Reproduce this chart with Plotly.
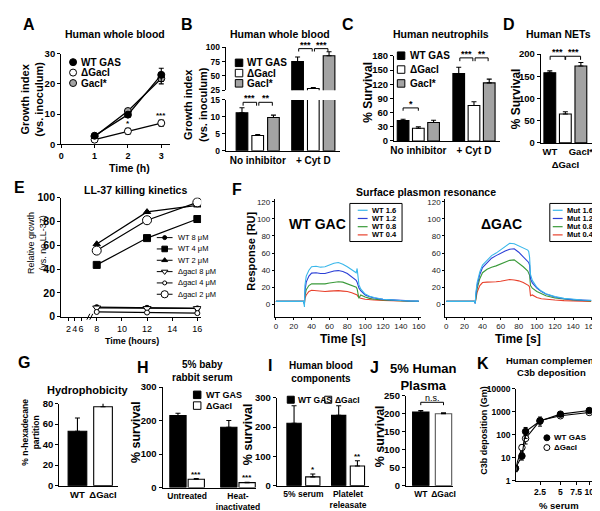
import math
import plotly.graph_objects as go

W, H = 600, 511
FONT = "Liberation Sans, Arial, Helvetica, sans-serif"
GRAY = "#a3a3a3"

# ---------------- data ----------------
# A  Human whole blood (time course)
a_hours = [1, 2, 3]
a_wt = [2.8, 9.8, 23.0]
a_wt_err = [0.4, 0.8, 2.2]
a_del = [1.5, 4.3, 7.0]
a_del_err = [0.3, 1.0, 1.0]
a_comp = [2.5, 11.0, 21.8]
a_comp_err = [0.3, 0.8, 1.8]
a_sig = ["", "*", "***"]
strain_names = ["WT GAS", "ΔGacI", "GacI*"]

# B  Human whole blood (inhibitor)
b_groups = ["No inhibitor", "+ Cyt D"]
b_wt = [11.2, 75]
b_wt_err = [1.5, 8]
b_del = [4.5, 28]
b_del_err = [0.3, 1.5]
b_comp = [9.8, 85]
b_comp_err = [0.7, 7]

# C  Human neutrophils
c_groups = ["No inhibitor", "+ Cyt D"]
c_wt = [43, 143]
c_wt_err = [3, 13]
c_del = [27, 75]
c_del_err = [3, 8]
c_comp = [39, 123]
c_comp_err = [5, 8]

# D  Human NETs
d_strains = ["WT", "<br>ΔGacI", "GacI*"]
d_vals = [158, 65, 173]
d_err = [4, 5, 8]

# E  LL-37 killing kinetics
e_times = [8, 12, 16]
e_names = ["WT 8 μM", "WT 4 μM", "WT 2 μM", "ΔgacI 8 μM", "ΔgacI 4 μM", "ΔgacI 2 μM"]
e_wt8 = [8, 7.5, 7]
e_wt4 = [43.5, 66, 82]
e_wt2 = [61, 88, 93.5]
e_del8 = [7.5, 7, 7]
e_del4 = [4, 3.5, 3]
e_del2 = [55.5, 81, 96]
e_ticks = [2, 4, 6, 8, 10, 12, 14, 16]

# F  Surface plasmon resonance
f_time = [0, 31, 32, 32.5, 34, 37, 40, 45, 50, 55, 60, 65, 70, 75, 80, 85, 90, 91, 92, 93,
          95, 100, 105, 110, 120, 130, 140, 150, 160]
f_wt16 = [3.5, 3.5, -3, 22, 33, 40, 44, 44.5, 43.5, 44, 46, 48, 49, 47, 44, 41, 37, 42, 28, 23,
          18, 12, 9.5, 8, 6, 5, 4.5, 4, 3.8]
f_wt12 = [3.5, 3.5, 0, 15, 26, 33, 36.5, 37, 36, 36, 37.5, 39, 39.5, 38.5, 36, 32, 28, 26, 22, 19,
          16, 11, 9, 7.5, 5.8, 5, 4.5, 4, 3.8]
f_wt08 = [3.5, 3.5, 1, 10, 17, 22, 24, 24, 23.5, 24, 25, 26, 26.5, 26, 24, 22, 20, 18, 14, 7,
          11, 8.5, 7, 6, 5, 4.3, 4, 3.7, 3.5]
f_wt04 = [3.5, 3.5, 2, 7, 11, 15, 16.5, 16, 15, 15, 15.5, 16, 16, 15.5, 15, 13.5, 12, 11, 9, 8,
          7, 6, 5.3, 5, 4.5, 4, 3.8, 3.6, 3.4]
f_mut16 = [3.5, 3.5, 1, 12, 25, 38, 46, 52, 57, 60, 64, 68, 71.5, 71, 68.5, 66, 63.5, 62, 55, 35,
           28, 20, 15.5, 12.5, 9, 7, 5.8, 5, 4.6]
f_mut12 = [3.5, 3.5, 1, 10, 22, 35, 43, 49, 54, 57, 60, 62.5, 64.5, 65, 61, 56, 51, 49, 46, 30,
           25, 19, 15, 12, 8.5, 6.5, 5.5, 5, 4.5]
f_mut08 = [3.5, 3.5, 2, 8, 18, 30, 37, 41, 43.5, 45, 47, 49.5, 51.5, 52, 48.5, 44, 39, 37, 34, 22,
           19, 15, 12, 10, 7.5, 6, 5, 4.5, 4]
f_mut04 = [3.5, 3.5, 2, 6, 14, 22, 25.5, 26, 26, 26.5, 27, 28, 29, 28.5, 27.5, 25.5, 23, 22, 20, 10,
           11, 8, 6.5, 5.8, 5, 4.3, 4, 3.7, 3.4]
f_conc = ["1.6", "1.2", "0.8", "0.4"]

# G  Hydrophobicity
g_strains = ["WT", "ΔGacI"]
g_vals = [53, 77]
g_err = [13, 6]

# H  5% baby rabbit serum
h_groups = ["Untreated", "Heat-<br>inactivated"]
h_wt = [215, 180]
h_wt_err = [7, 20]
h_del = [25, 15]
h_del_err = [2, 1]

# I  Human blood components
i_groups = ["5% serum", "Platelet<br>releasate"]
i_wt = [213, 240]
i_wt_err = [60, 33]
i_del = [30, 67]
i_del_err = [10, 18]
i_sig = ["*", "**"]

# J  5% human plasma
j_strains = ["WT", "ΔGacI"]
j_vals = [205, 200]
j_err = [4, 3]

# K  C3b deposition
k_serum = [0.625, 1.0, 1.25, 2.5, 5, 10]
k_wt = [3.5, 12, 140, 400, 800, 1150]
k_wt_err = [1, 4, 70, 100, 150, 150]
k_del = [3.5, 28, 70, 420, 680, 950]
k_del_err = [1, 10, 30, 180, 100, 100]
k_ticks = [2.5, 5, 7.5, 10]

# ---------------- helpers ----------------
fig = go.Figure()
axes_layout = {}
annotations = []
shapes = []


def base(size=9.5, bold=True, color="black"):
    return dict(showline=True, linecolor="black", linewidth=1.3, ticks="outside", ticklen=3,
                tickwidth=1.3, tickcolor="black", showgrid=False, zeroline=False, tickangle=0,
                tickfont=dict(family=FONT, size=size, color=color,
                              weight="bold" if bold else "normal"),
                fixedrange=True)


def make_axes(n, xpx, ypx, xr, yr, xkw=None, ykw=None):
    xs = "x" if n == 1 else f"x{n}"
    ys = "y" if n == 1 else f"y{n}"
    xa = base()
    xa.update(domain=[xpx[0] / W, xpx[1] / W], range=xr, anchor=ys)
    xa.update(xkw or {})
    ya = base()
    ya.update(domain=[1 - ypx[1] / H, 1 - ypx[0] / H], range=yr, anchor=xs)
    ya.update(ykw or {})
    axes_layout["xaxis" if n == 1 else f"xaxis{n}"] = xa
    axes_layout["yaxis" if n == 1 else f"yaxis{n}"] = ya
    return xs, ys


def tf(size=9.5, bold=True, color="black"):
    return dict(family=FONT, size=size, color=color, weight="bold" if bold else "normal")


def text(x, y, s, size=10, bold=True, anchor="center", angle=0, color="black"):
    annotations.append(dict(x=x / W, y=1 - y / H, xref="paper", yref="paper", text=s,
                            showarrow=False, xanchor=anchor, yanchor="middle", textangle=angle,
                            font=tf(size, bold, color)))


def bars(xa, ya, xs, vals, errs, fill, width, line="black"):
    fig.add_trace(go.Bar(
        x=xs, y=vals, width=width, xaxis=xa, yaxis=ya,
        marker=dict(color=fill, line=dict(color=line, width=1.1)),
        error_y=dict(type="data", array=errs, arrayminus=[0] * len(vals), symmetric=False,
                     color="black", thickness=1.1, width=2.5),
        hoverinfo="skip"))


def bracket(xa, ya, x0, x1, y, leg, label, size=9, bold=True):
    shapes.append(dict(type="path", xref=xa, yref=ya,
                       path=f"M{x0},{y - leg} L{x0},{y} L{x1},{y} L{x1},{y - leg}",
                       line=dict(color="black", width=1)))
    annotations.append(dict(x=(x0 + x1) / 2, y=y, xref=xa, yref=ya, text=label, showarrow=False,
                            yanchor="bottom", yshift=-3, font=tf(size, bold)))


def star(xa, ya, x, y, label, size=8):
    annotations.append(dict(x=x, y=y, xref=xa, yref=ya, text=label, showarrow=False,
                            yanchor="bottom", yshift=-2, font=tf(size)))


def lg(x, y, symbol=None, size=7, fill="black", line="black", seg=None, lcolor="black", lw=1.2):
    """legend glyph on the pixel overlay axis"""
    if seg:
        fig.add_trace(go.Scatter(x=[x - seg, x + seg], y=[y, y], mode="lines", xaxis="x30",
                                 yaxis="y30", line=dict(color=lcolor, width=lw),
                                 hoverinfo="skip"))
    if symbol:
        fig.add_trace(go.Scatter(x=[x], y=[y], mode="markers", xaxis="x30", yaxis="y30",
                                 marker=dict(symbol=symbol, size=size, color=fill,
                                             line=dict(color=line, width=1)),
                                 hoverinfo="skip"))


fills = ["black", "white", GRAY]

# ---------------- A ----------------
xa, ya = make_axes(1, (50, 160), (40.7, 133.3), [0, 3.25], [0, 30],
                   dict(tickvals=[0, 1, 2, 3], tickfont=tf(9)), dict(tickvals=[0, 10, 20, 30]))
for vals, errs, fill in [(a_comp, a_comp_err, GRAY), (a_del, a_del_err, "white"),
                         (a_wt, a_wt_err, "black")]:
    fig.add_trace(go.Scatter(x=a_hours, y=vals, xaxis=xa, yaxis=ya, mode="lines+markers",
                             line=dict(color="black", width=1.3),
                             marker=dict(size=7, color=fill, line=dict(color="black", width=1)),
                             error_y=dict(type="data", array=errs, color="black", thickness=1.1,
                                          width=2.5), hoverinfo="skip"))
for h, v, e, s in zip(a_hours, a_del, a_del_err, a_sig):
    if s:
        star(xa, ya, h, v + e, s)
for i, (nm, fill) in enumerate(zip(strain_names, fills)):
    lg(62, 49.3 + 10.7 * i, "circle", 7, fill)
    text(68, 49.3 + 10.7 * i, nm, 10, anchor="left")
text(17, 11, "A", 16)
text(105, 20, "Human whole blood", 10.5)
text(20, 87, "Growth index<br>(vs. inoculum)", 11, angle=-90)
text(119, 158, "Time (h)", 10.5)

# ---------------- B (broken axis) ----------------
b_off, b_w = 0.283, 0.21
b_x = list(range(len(b_groups)))
xb, yb = make_axes(2, (217, 333), (88, 140), [-0.575, 1.48], [0, 15],
                   dict(tickvals=b_x, ticktext=b_groups, ticks="", tickfont=tf(10)),
                   dict(tickvals=[0, 5, 10, 15], tickfont=tf(8.5)))
xb2, yb2 = make_axes(3, (217, 333), (34, 78), [-0.575, 1.48], [25, 100],
                     dict(visible=False), dict(tickvals=[25, 50, 75, 100], tickfont=tf(8.5)))
for axx, axy in [(xb, yb), (xb2, yb2)]:
    for k, (vals, errs) in enumerate([(b_wt, b_wt_err), (b_del, b_del_err), (b_comp, b_comp_err)]):
        bars(axx, axy, [g + (k - 1) * b_off for g in b_x], vals, errs, fills[k], b_w)
bracket(xb, yb, -b_off + 0.02, -0.02, 14.3, 1.0, "***")
bracket(xb, yb, 0.02, b_off - 0.02, 14.3, 1.0, "**")
bracket(xb2, yb2, 1 - b_off + 0.02, 0.98, 97.5, 5, "***")
bracket(xb2, yb2, 1.02, 1 + b_off - 0.02, 97.5, 5, "***")
for i, nm in enumerate(strain_names):
    lg(230.5, 50 + 10.5 * i, "square", 7.5, fills[i])
    text(237, 50 + 10.5 * i, nm, 10, anchor="left")
text(178, 11, "B", 16)
text(272, 20, "Human whole blood", 10.5)
text(186, 93, "Growth index<br>(vs. inoculum)", 11, angle=-90)

# ---------------- C ----------------
c_off, c_w = 0.274, 0.21
c_x = list(range(len(c_groups)))
xc, yc = make_axes(4, (388, 495), (43, 130), [-0.434, 1.46], [0, 180],
                   dict(tickvals=c_x, ticktext=c_groups, ticks="", tickfont=tf(10)),
                   dict(tickvals=[0, 30, 60, 90, 120, 150, 180]))
for k, (vals, errs) in enumerate([(c_wt, c_wt_err), (c_del, c_del_err), (c_comp, c_comp_err)]):
    bars(xc, yc, [g + (k - 1) * c_off for g in c_x], vals, errs, fills[k], c_w)
bracket(xc, yc, -c_off, 0, 70, 6, "*")
bracket(xc, yc, 1 - c_off + 0.02, 0.98, 176, 7, "***")
bracket(xc, yc, 1.02, 1 + c_off - 0.02, 176, 7, "**")
for i, nm in enumerate(strain_names):
    lg(395, 42.7 + 14.2 * i, "square", 7.5, fills[i])
    text(402, 42.7 + 14.2 * i, nm, 10, anchor="left")
text(341, 11, "C", 16)
text(436, 20, "Human neutrophils", 10.5)
text(362, 80, "% Survival", 12, angle=-90)

# ---------------- D ----------------
d_x = list(range(len(d_strains)))
xd, yd = make_axes(5, (537, 590), (41, 132), [-0.571, 2.79], [0, 200],
                   dict(tickvals=d_x, ticktext=d_strains, ticks="", tickfont=tf(9.5)),
                   dict(tickvals=[0, 50, 100, 150, 200]))
for k in d_x:
    bars(xd, yd, [k], [d_vals[k]], [d_err[k]], fills[k], 0.76)
bracket(xd, yd, 0.02, 0.98, 195, 8, "***")
bracket(xd, yd, 1.02, 1.98, 195, 8, "***")
text(505, 11, "D", 16)
text(555, 20, "Human NETs", 10.5)
text(512, 87, "% Survival", 12, angle=-90)

# ---------------- E ----------------
e_tickpos = [5.25 + 0.25 * t if t < 8 else t for t in e_ticks]
xe, ye = make_axes(6, (50, 192), (188, 310), [5.18, 16.3], [0, 100],
                   dict(tickvals=e_tickpos, ticktext=[str(t) for t in e_ticks],
                        tickfont=tf(9, False)),
                   dict(tickvals=[0, 20, 40, 60, 80, 100], tickfont=tf(10.5)))
e_styles = [("circle", 5, "black"), ("square", 7, "black"), ("triangle-up", 6.5, "black"),
            ("triangle-down", 7, "white"), ("circle", 5, "white"), ("circle", 9, "white")]
for vals, (sym, sz, fill) in zip([e_wt8, e_wt4, e_wt2, e_del8, e_del4, e_del2], e_styles):
    fig.add_trace(go.Scatter(x=e_times, y=vals, xaxis=xe, yaxis=ye, mode="lines+markers",
                             line=dict(color="black", width=1.2),
                             marker=dict(symbol=sym, size=sz, color=fill,
                                         line=dict(color="black", width=1)), hoverinfo="skip"))
# axis break marks between 6 and 8
for dxp in (0, 3):
    shapes.append(dict(type="line", xref="paper", yref="paper", x0=(76 + dxp) / W,
                       x1=(79 + dxp) / W, y0=1 - 313 / H, y1=1 - 307 / H,
                       line=dict(color="black", width=1)))
for i, (nm, (sym, sz, fill)) in enumerate(zip(e_names, e_styles)):
    lg(155, 229 + 11.6 * i, sym, sz * 0.8, fill, seg=8, lw=1)
    text(166, 229 + 11.6 * i, nm, 7.5, bold=False, anchor="left")
text(8, 178, "E", 16)
text(125, 180, "LL-37 killing kinetics", 10.5)
text(26, 235, "Relative growth<br>(vs. no LL-37)", 9, bold=False, angle=-90)
text(122, 335, "Time (hours)", 9)

# ---------------- F ----------------
f_colors = ["#39b7ea", "#2b3fd6", "#3a9a3a", "#e8412c"]
fax = dict(tickfont=tf(8, False, "#222"), ticklen=2, linewidth=1.2)
xf1, yf1 = make_axes(7, (267, 415), (189, 310), [-1, 162.3], [-14.5, 123.8],
                     dict(dtick=20, **fax), dict(tickvals=[0, 20, 40, 60, 80, 100, 120], **fax))
xf2, yf2 = make_axes(8, (440, 590), (189, 310), [-1, 162.2], [-14.5, 123.8],
                     dict(dtick=20, **fax), dict(tickvals=[0, 20, 40, 60, 80, 100, 120], **fax))
for axx, axy, curves in [(xf1, yf1, [f_wt16, f_wt12, f_wt08, f_wt04]),
                         (xf2, yf2, [f_mut16, f_mut12, f_mut08, f_mut04])]:
    for vals, col in reversed(list(zip(curves, f_colors))):
        fig.add_trace(go.Scatter(x=f_time, y=vals, xaxis=axx, yaxis=axy, mode="lines",
                                 line=dict(color=col, width=1.1), hoverinfo="skip"))
for (bx0, bx1, lx, pre) in [(343, 396, 356, "WT"), (546, 598, 554, "Mut")]:
    shapes.append(dict(type="rect", xref="paper", yref="paper", x0=bx0 / W, x1=bx1 / W,
                       y0=1 - 233 / H, y1=1 - 194 / H, line=dict(color="black", width=1)))
    for i, (c, col) in enumerate(zip(f_conc, f_colors)):
        yy = 201 + 8.4 * i
        lg(lx, yy, seg=5, lcolor=col, lw=1.2)
        text(lx + 7, yy, f"{pre} {c}", 7.5, anchor="left")
text(228, 180, "F", 16)
text(420, 182, "Surface plasmon resonance", 10.5)
text(310, 215, "WT GAC", 14)
text(497, 215, "ΔGAC", 14)
text(243, 243, "Response [RU]", 11, angle=-90)
text(336, 333, "Time [s]", 12)
text(514, 333, "Time [s]", 12)

# ---------------- G ----------------
g_x = list(range(len(g_strains)))
xg, yg = make_axes(9, (48, 108), (399, 483), [-0.71, 1.6], [0, 80],
                   dict(tickvals=g_x, ticktext=g_strains, ticks="", tickfont=tf(9.5)),
                   dict(tickvals=[0, 20, 40, 60, 80]))
for k in g_x:
    bars(xg, yg, [k], [g_vals[k]], [g_err[k]], fills[k], 0.73)
text(12, 357, "G", 16)
text(77, 385, "Hydrophobicity", 11)
text(19, 428, "% n-hexadecane<br>partition", 8.5, angle=-90)

# ---------------- H ----------------
h_off, h_w = 0.18, 0.32
h_x = list(range(len(h_groups)))
xh, yh = make_axes(10, (153, 248), (382, 485), [-0.48, 1.36], [0, 300],
                   dict(tickvals=h_x, ticktext=h_groups, ticks="", tickfont=tf(8.5)),
                   dict(tickvals=[0, 100, 200, 300]))
bars(xh, yh, [g - h_off for g in h_x], h_wt, h_wt_err, "black", h_w)
bars(xh, yh, [g + h_off for g in h_x], h_del, h_del_err, "white", h_w)
for g, v, e in zip(h_x, h_del, h_del_err):
    star(xh, yh, g + h_off, v + e, "***")
for i, nm in enumerate(strain_names[:2]):
    lg(188, 390 + 11 * i, "square", 7.5, fills[i])
    text(195, 390 + 11 * i, nm, 9, anchor="left")
text(133, 362, "H", 16)
text(193, 366, "5% baby<br>rabbit serum", 10)
text(126, 428, "% survival", 12.5, angle=-90)

# ---------------- I ----------------
i_off, i_w = 0.21, 0.32
i_x = list(range(len(i_groups)))
xi, yi = make_axes(11, (269, 362), (393, 483), [-0.593, 1.46], [0, 300],
                   dict(tickvals=i_x, ticktext=i_groups, ticks="", tickfont=tf(8.5)),
                   dict(tickvals=[0, 100, 200, 300]))
bars(xi, yi, [g - i_off for g in i_x], i_wt, i_wt_err, "black", i_w)
bars(xi, yi, [g + i_off for g in i_x], i_del, i_del_err, "white", i_w)
for g, v, e, s in zip(i_x, i_del, i_del_err, i_sig):
    star(xi, yi, g + i_off, v + e, s)
lg(283, 395, "square", 7, "black")
text(288, 395, "WT GAS", 8.5, anchor="left")
lg(321, 395, "square", 7, "white")
text(326, 395, "ΔGacI", 8.5, anchor="left")
text(262, 360, "I", 16)
text(314, 367, "Human blood<br>components", 10)
text(240, 430, "% survival", 12.5, angle=-90)

# ---------------- J ----------------
j_x = list(range(len(j_strains)))
xj, yj = make_axes(12, (400, 448), (391, 483), [-0.65, 1.43], [0, 250],
                   dict(tickvals=j_x, ticktext=j_strains, ticks="", tickfont=tf(8.5)),
                   dict(tickvals=[0, 50, 100, 150, 200, 250]))
bars(xj, yj, [0], [j_vals[0]], [j_err[0]], "black", 0.72)
bars(xj, yj, [1], [j_vals[1]], [j_err[1]], "white", 0.72, line="#555")
bracket(xj, yj, 0, 1, 232, 8, "n.s.", size=9, bold=False)
text(368, 362, "J", 16)
text(418, 372, "5% Human<br>Plasma", 13)
text(373, 432, "% survival", 12.5, angle=-90)

# ---------------- K (square-root x scale, log y) ----------------
k_sx = [math.sqrt(v) for v in k_serum]
xk, yk = make_axes(13, (512, 592), (384, 478), [0.82, 3.35], [0, 4],
                   dict(tickvals=[math.sqrt(t) for t in k_ticks],
                        ticktext=[f"{t:g}" for t in k_ticks], tickfont=tf(8.5)),
                   dict(type="log", tickvals=[1, 10, 100, 1000, 10000],
                        ticktext=["1", "10", "100", "1000", "10000"], tickfont=tf(8.5)))
for vals, errs, fill in [(k_del, k_del_err, "white"), (k_wt, k_wt_err, "black")]:
    fig.add_trace(go.Scatter(x=k_sx, y=vals, xaxis=xk, yaxis=yk, mode="lines+markers",
                             line=dict(color="black", width=1.1),
                             marker=dict(size=6.5, color=fill, line=dict(color="black", width=1)),
                             error_y=dict(type="data", array=errs, color="black", thickness=1,
                                          width=2), hoverinfo="skip"))
for i, (nm, fill) in enumerate(zip(strain_names[:2], ["black", "white"])):
    lg(543, 434 + 10 * i, "circle", 6, fill)
    text(548, 434 + 10 * i, nm, 8, anchor="left")
text(478, 358, "K", 16)
text(548, 361, "Human complement<br>C3b deposition", 9.5)
text(479, 426, "C3b deposition (Gm)", 9, angle=-90)
text(555, 503, "% serum", 9.5)

# ---------------- overlay axis for legend glyphs ----------------
axes_layout["xaxis30"] = dict(domain=[0, 1], range=[0, W], visible=False, fixedrange=True,
                              anchor="y30")
axes_layout["yaxis30"] = dict(domain=[0, 1], range=[H, 0], visible=False, fixedrange=True,
                              anchor="x30")

fig.update_layout(width=W, height=H, margin=dict(l=0, r=0, t=0, b=0),
                  paper_bgcolor="white", plot_bgcolor="rgba(0,0,0,0)", showlegend=False,
                  barmode="overlay", annotations=annotations, shapes=shapes,
                  font=dict(family=FONT, color="black"), **axes_layout)
fig.write_html("out.html")
